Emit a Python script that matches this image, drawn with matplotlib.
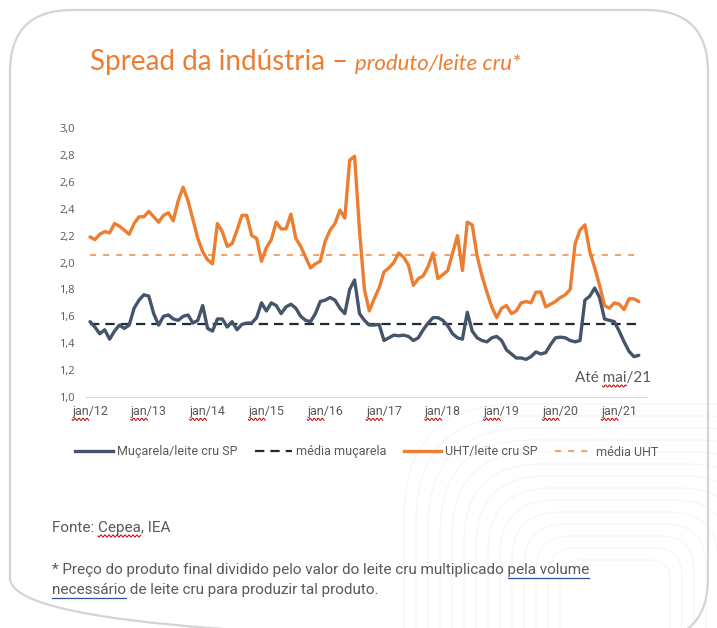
import numpy as np
import matplotlib.pyplot as plt
from matplotlib.patches import FancyBboxPatch
from matplotlib.lines import Line2D

# dados (mensal, jan/12 a mai/21)
anos = ["jan/12", "jan/13", "jan/14", "jan/15", "jan/16",
        "jan/17", "jan/18", "jan/19", "jan/20", "jan/21"]

uht = [2.19, 2.17, 2.21, 2.23, 2.22, 2.29, 2.27, 2.24, 2.21, 2.29, 2.34, 2.34,
       2.38, 2.34, 2.30, 2.35, 2.37, 2.31, 2.46, 2.56, 2.46, 2.32, 2.18, 2.08,
       2.02, 1.99, 2.29, 2.23, 2.12, 2.14, 2.24, 2.35, 2.35, 2.20, 2.18, 2.01,
       2.11, 2.17, 2.30, 2.25, 2.25, 2.36, 2.18, 2.12, 2.04, 1.96, 1.99, 2.01,
       2.16, 2.24, 2.29, 2.39, 2.33, 2.76, 2.79, 2.24, 1.80, 1.64, 1.73, 1.81,
       1.93, 1.96, 2.00, 2.07, 2.04, 1.98, 1.83, 1.88, 1.90, 1.97, 2.07, 1.88,
       1.91, 1.94, 2.07, 2.20, 1.94, 2.30, 2.28, 2.05, 1.90, 1.78, 1.67, 1.59,
       1.66, 1.68, 1.62, 1.64, 1.70, 1.71, 1.70, 1.78, 1.78, 1.67, 1.69, 1.71,
       1.74, 1.76, 1.80, 2.14, 2.24, 2.28, 2.08, 1.96, 1.83, 1.68, 1.66, 1.70,
       1.69, 1.65, 1.73, 1.73, 1.71]

mucarela = [1.56, 1.52, 1.47, 1.50, 1.43, 1.49, 1.535, 1.51, 1.535, 1.66, 1.72, 1.76,
            1.75, 1.62, 1.535, 1.60, 1.61, 1.58, 1.57, 1.60, 1.61, 1.55, 1.57, 1.68,
            1.51, 1.49, 1.58, 1.58, 1.52, 1.56, 1.50, 1.54, 1.55, 1.55, 1.59, 1.70,
            1.64, 1.70, 1.68, 1.62, 1.67, 1.69, 1.66, 1.60, 1.57, 1.56, 1.62, 1.71,
            1.72, 1.74, 1.72, 1.66, 1.62, 1.80, 1.87, 1.62, 1.57, 1.535, 1.535, 1.54,
            1.42, 1.44, 1.46, 1.455, 1.46, 1.45, 1.42, 1.44, 1.50, 1.55, 1.59, 1.59,
            1.57, 1.53, 1.47, 1.44, 1.43, 1.63, 1.49, 1.44, 1.42, 1.41, 1.44, 1.45,
            1.42, 1.35, 1.32, 1.29, 1.29, 1.28, 1.30, 1.335, 1.32, 1.33, 1.39, 1.44,
            1.445, 1.44, 1.42, 1.41, 1.42, 1.72, 1.75, 1.81, 1.74, 1.58, 1.57, 1.56,
            1.49, 1.41, 1.34, 1.30, 1.31]

media_mucarela = 1.54
media_uht = 2.055

y_ticks = [1.0, 1.2, 1.4, 1.6, 1.8, 2.0, 2.2, 2.4, 2.6, 2.8, 3.0]

LARANJA = "#ED7D31"
LARANJA_CLARO = "#F3A46B"
AZUL = "#44546A"
AZUL_ESCURO = "#222B35"
CINZA = "#595959"
ESTREITA = ["Roboto", "DejaVu Sans"]
TITULO = ["Lato", "DejaVu Sans"]

W, H = 717, 628
fig = plt.figure(figsize=(W / 100, H / 100), dpi=100)

# camada de fundo em pixels
bg = fig.add_axes([0, 0, 1, 1])
bg.set_xlim(0, W)
bg.set_ylim(H, 0)
bg.axis("off")

# contornos decorativos bem claros
for k in range(14):
    d = 12 * k
    bg.add_patch(FancyBboxPatch((560 - d, 560 - d), 110 + 2 * d, 200 + 2 * d,
                                boxstyle=f"round,pad=0,rounding_size={20 + d * 0.6}",
                                fill=False, edgecolor="#f4f4f4", lw=0.7, zorder=0))
bg.add_patch(FancyBboxPatch((10, 10), 698, 630,
                            boxstyle="round,pad=0,rounding_size=62",
                            fill=False, edgecolor="#d4d4d4", lw=1.6, zorder=1))

# gráfico
x0, x1, ytop, ybot = 86, 647, 128, 397
ax = fig.add_axes([x0 / W, 1 - ybot / H, (x1 - x0) / W, (ybot - ytop) / H])
ax.set_facecolor("none")
meses = np.arange(len(uht))
px = 4.9
ax.set_xlim(-(90 - x0) / px, (x1 - 90) / px)
ax.set_ylim(1.0, 3.0)

ax.plot(meses, mucarela, color=AZUL, lw=2.4, solid_joinstyle="round",
        solid_capstyle="round", zorder=4)
ax.plot(meses, [media_mucarela] * len(meses), color=AZUL_ESCURO, lw=1.6,
        dashes=(4.2, 2.7), zorder=3)
ax.plot(meses, uht, color=LARANJA, lw=2.4, solid_joinstyle="round",
        solid_capstyle="round", zorder=4)
ax.plot(meses, [media_uht] * len(meses), color=LARANJA_CLARO, lw=1.5,
        dashes=(2.9, 3.4), zorder=3)

for s in ["left", "right", "top"]:
    ax.spines[s].set_visible(False)
ax.spines["bottom"].set_color("#d9d9d9")
ax.spines["bottom"].set_linewidth(0.9)

ax.set_yticks(y_ticks)
ax.set_yticklabels([f"{v:.1f}".replace(".", ",") for v in y_ticks],
                   fontsize=8, color=CINZA, family=["Open Sans", "DejaVu Sans"])
ax.set_xticks(np.arange(0, 12 * len(anos), 12))
ax.set_xticklabels(anos, fontsize=9, color=CINZA, family=ESTREITA)
ax.tick_params(axis="y", length=0, pad=8)
ax.tick_params(axis="x", length=0, pad=6)

# título
t1 = bg.text(90, 62, "Spread da indústria – ", fontsize=20, color=LARANJA,
             family=TITULO, va="center", ha="left")
fig.canvas.draw()
bb = t1.get_window_extent()
bg.text(bb.x1, 64, "produto/leite cru*", fontsize=16, color=LARANJA,
        style="italic", family=TITULO, va="center", ha="left")

ate = bg.text(651, 378, "Até mai/21", fontsize=11, color=CINZA,
              family=TITULO, va="center", ha="right")

# legenda
handles = [Line2D([], [], color=AZUL, lw=2.4),
           Line2D([], [], color=AZUL_ESCURO, lw=1.6, dashes=(4.2, 2.7)),
           Line2D([], [], color=LARANJA, lw=2.4),
           Line2D([], [], color=LARANJA_CLARO, lw=1.5, dashes=(2.9, 3.4))]
labels = ["Muçarela/leite cru SP", "média muçarela", "UHT/leite cru SP", "média UHT"]
leg = fig.legend(handles, labels, loc="center", bbox_to_anchor=(367 / W, 1 - 452 / H),
                 ncol=4, frameon=False, handlelength=3.0, handletextpad=0.3,
                 columnspacing=1.4, prop={"family": ESTREITA, "size": 9})
for t in leg.get_texts():
    t.set_color(CINZA)

# rodapé
fonte = bg.text(52, 528, "Fonte: Cepea, IEA", fontsize=11, color=CINZA,
                family=ESTREITA, va="center")
linha1 = "* Preço do produto final dividido pelo valor do leite cru multiplicado "
nota1 = bg.text(52, 570, linha1 + "pela volume", fontsize=11, color=CINZA,
                family=ESTREITA, va="center")
nota2 = bg.text(52, 590, "necessário de leite cru para produzir tal produto.",
                fontsize=11, color=CINZA, family=ESTREITA, va="center")

# marcas de revisão ortográfica do print original
fig.canvas.draw()
rend = fig.canvas.get_renderer()


def largura(texto, ref):
    t = bg.text(0, 0, texto, fontsize=ref.get_fontsize(), family=ref.get_family(),
                style=ref.get_style())
    w = t.get_window_extent(rend).width
    t.remove()
    return w


def ondulado(xa, xb, y, cor="#C00000"):
    xs = np.linspace(xa, xb, int((xb - xa) * 2) + 2)
    bg.plot(xs, y + 1.1 * np.sin((xs - xa) * np.pi / 2), color=cor, lw=0.7, zorder=5)


for lab in ax.get_xticklabels():
    e = lab.get_window_extent(rend)
    w = largura("jan", lab)
    ondulado(e.x0, e.x0 + w, H - e.y0 + 1)

e = ate.get_window_extent(rend)
xa = e.x0 + largura("Até ", ate)
ondulado(xa, xa + largura("mai", ate), H - e.y0 + 1)

e = fonte.get_window_extent(rend)
xa = e.x0 + largura("Fonte: ", fonte)
ondulado(xa, xa + largura("Cepea", fonte), H - e.y0 + 1)

e = nota1.get_window_extent(rend)
xa = e.x0 + largura(linha1, nota1)
bg.plot([xa, e.x1], [H - e.y0 + 1, H - e.y0 + 1], color="#2F5597", lw=0.9)
e = nota2.get_window_extent(rend)
bg.plot([e.x0, e.x0 + largura("necessário", nota2)], [H - e.y0 + 1] * 2,
        color="#2F5597", lw=0.9)

fig.savefig("out.png", dpi=100)
